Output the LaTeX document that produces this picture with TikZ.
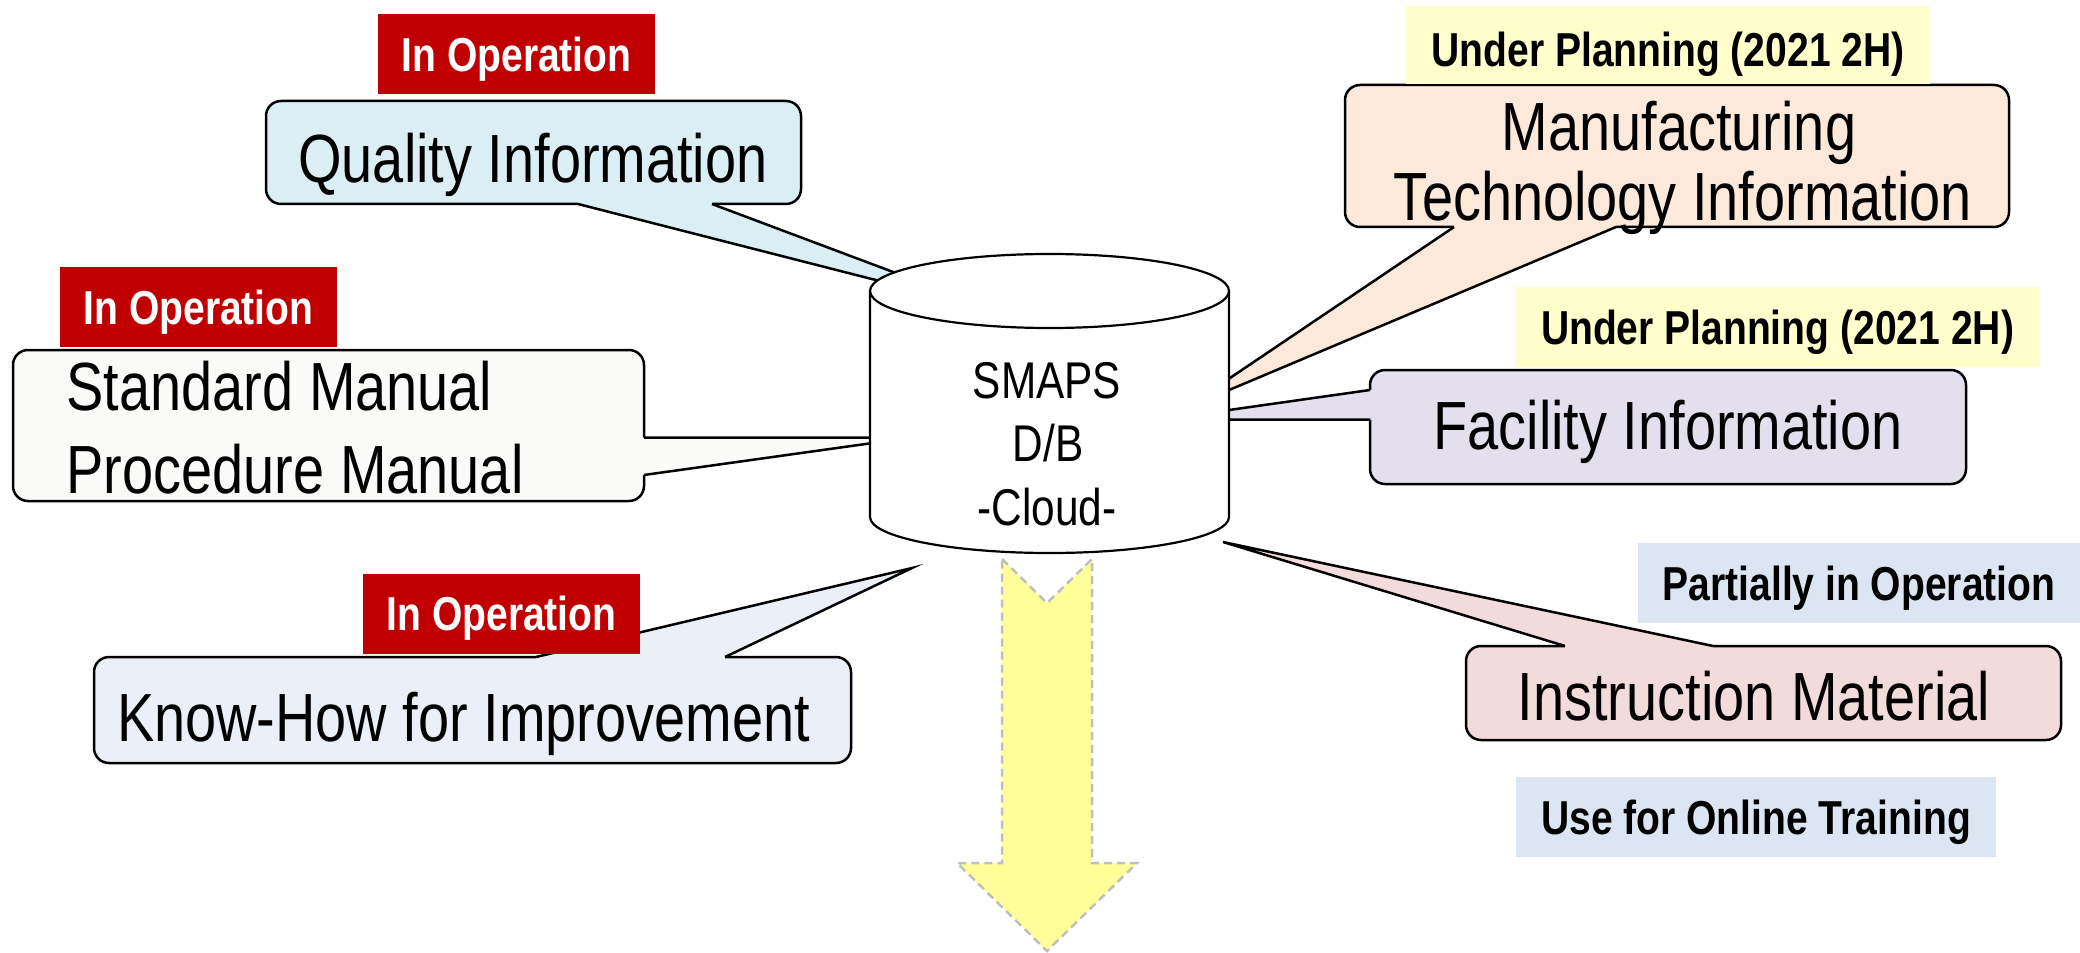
\documentclass[tikz,border=0pt]{standalone}
\usepackage{fontspec}
\setmainfont{Liberation Sans}[FakeStretch=0.82]
\usepackage{xcolor}
\usepackage{tikz}
\usetikzlibrary{calc}

\definecolor{tagred}{HTML}{C00000}
\definecolor{tagyellow}{HTML}{FFFFCC}
\definecolor{tagblue}{HTML}{DCE6F2}
\definecolor{qualfill}{HTML}{DAEEF3}
\definecolor{stdfill}{HTML}{FAFAF8}
\definecolor{knowfill}{HTML}{EBF0F8}
\definecolor{mfgfill}{HTML}{FDE9D9}
\definecolor{facfill}{HTML}{E4DFEC}
\definecolor{instfill}{HTML}{F2DCDB}
\definecolor{arrowfill}{HTML}{FFFF99}
\definecolor{arrowedge}{HTML}{BFBFBF}

\begin{document}
\begin{tikzpicture}[x=0.1mm, y=-0.1mm,
    callbox/.style={draw, line width=0.25mm, rounded corners=1.5mm, inner sep=0pt, outer sep=0pt},
    tailline/.style={line width=0.25mm},
    dbline/.style={line width=0.22mm},
    bigtext/.style={font=\fontsize{19.4}{23}\selectfont, inner sep=0pt, anchor=base},
    dbtext/.style={font=\fontsize{14.7}{18}\selectfont, inner sep=0pt, anchor=base},
    tag/.style={font=\bfseries\fontsize{13.55}{16}\selectfont, inner sep=0pt,
                text height=3.41mm, text depth=0pt, minimum height=8mm},
    redtag/.style={tag, fill=tagred, text=white, minimum width=27.7mm},
    yellowtag/.style={tag, fill=tagyellow},
    bluetag/.style={tag, fill=tagblue}]

    \useasboundingbox (0,0) rectangle (2080,952);

    \def\calltail#1#2#3#4#5{
      \fill[#1] ($(#2)+(#5)$) -- (#2) -- (#3) -- (#4) -- ($(#4)+(#5)$) -- cycle;
      \draw[tailline] (#2) -- (#3) -- (#4);
    }

    % arrow down from the D/B
    \filldraw[fill=arrowfill, draw=arrowedge, line width=0.25mm, dash pattern=on 0.8mm off 0.5mm]
      (1002,559) -- (1047,603) -- (1092,559) -- (1092,863) -- (1137,863)
      -- (1047,951) -- (957,863) -- (1002,863) -- cycle;

    % callout boxes
    \node[callbox, fill=qualfill, minimum width=53.5mm, minimum height=10.3mm] (qualbox) at (533.5,152.5) {};
    \node[callbox, fill=stdfill,  minimum width=63.1mm, minimum height=15.1mm] (stdbox)  at (328.5,425.5) {};
    \node[callbox, fill=knowfill, minimum width=75.7mm, minimum height=10.6mm] (knowbox) at (472.5,710) {};
    \node[callbox, fill=mfgfill,  minimum width=66.4mm, minimum height=14.2mm] (mfgbox)  at (1677,156) {};
    \node[callbox, fill=facfill,  minimum width=59.6mm, minimum height=11.4mm] (facbox)  at (1668,427) {};
    \node[callbox, fill=instfill, minimum width=59.5mm, minimum height=9.4mm]  (instbox) at (1763.5,693) {};

    \coordinate (qa) at ([xshift=31.2mm]qualbox.south west);
    \coordinate (qb) at ([xshift=44.6mm]qualbox.south west);
    \coordinate (sa) at ([yshift=-8.75mm]stdbox.north east);
    \coordinate (sb) at ([yshift=-12.5mm]stdbox.north east);
    \coordinate (ka) at ([xshift=44.2mm]knowbox.north west);
    \coordinate (kb) at ([xshift=63.1mm]knowbox.north west);
    \coordinate (ma) at ([xshift=10.9mm]mfgbox.south west);
    \coordinate (mb) at ([xshift=27.1mm]mfgbox.south west);
    \coordinate (fa) at ([yshift=-2mm]facbox.north west);
    \coordinate (fb) at ([yshift=-4.95mm]facbox.north west);
    \coordinate (ia) at ([xshift=9.9mm]instbox.north west);
    \coordinate (ib) at ([xshift=24.7mm]instbox.north west);

    \coordinate (qtip) at (997,311);
    \coordinate (stip) at (912,437.5);
    \coordinate (ktip) at (912,568);
    \coordinate (mtip) at (1184,409);
    \coordinate (ftip) at (1162,419.5);
    \coordinate (itip) at (1223,542);

    \calltail{qualfill}{qa}{qtip}{qb}{0,-3}
    \calltail{stdfill}{sa}{stip}{sb}{-3,0}
    \calltail{knowfill}{ka}{ktip}{kb}{0,3}
    \calltail{mfgfill}{ma}{mtip}{mb}{0,-3}
    \calltail{facfill}{fa}{ftip}{fb}{3,0}
    \calltail{instfill}{ia}{itip}{ib}{0,3}

    % the D/B
    \filldraw[dbline, fill=white] (870,291) -- (870,517)
      arc[start angle=180, end angle=0, x radius=179.5, y radius=36] -- (1229,291) -- cycle;
    \filldraw[dbline, fill=white] (1049.5,291) ellipse[x radius=179.5, y radius=37];

    \node[dbtext] (db1) at (1047,398) {SMAPS};
    \node[dbtext] (db2) at (1048,461.5) {D/B};
    \node[dbtext] (db3) at (1047,525) {-Cloud-};

    \node[bigtext] (qual) at (533,183) {Quality Information};
    \node[bigtext, anchor=base west] (std1) at (66,410) {Standard Manual};
    \node[bigtext, anchor=base west] (std2) at (66,493) {Procedure Manual};
    \node[bigtext] (know) at (463.5,741) {Know-How for Improvement};
    \node[bigtext] (mfg1) at (1679,150) {Manufacturing};
    \node[bigtext] (mfg2) at (1683,221) {Technology Information};
    \node[bigtext] (fac)  at (1668,449) {Facility Information};
    \node[bigtext] (inst) at (1754,720.5) {Instruction Material};

    % status tags
    \node[redtag] (opq) at (516.5,54) {In Operation};
    \node[redtag] (ops) at (198.5,307) {In Operation};
    \node[redtag] (opk) at (501.5,613.5) {In Operation};
    \node[yellowtag, minimum width=52.4mm, minimum height=7.8mm, text height=4.3mm] (planm) at (1668,45) {Under Planning (2021 2H)};
    \node[yellowtag, minimum width=52.5mm] (planf) at (1777.5,327) {Under Planning (2021 2H)};
    \node[bluetag, minimum width=44.2mm] (part) at (1859,583) {Partially in Operation};
    \node[bluetag, minimum width=48mm] (online) at (1756,817) {Use for Online Training};

\end{tikzpicture}
\end{document}
